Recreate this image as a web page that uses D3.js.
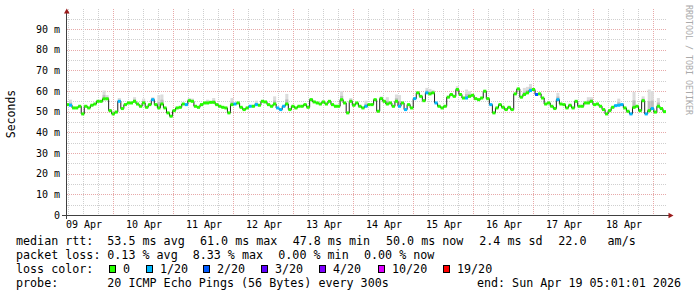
<!DOCTYPE html>
<html><head><meta charset="utf-8">
<script src="https://cdn.jsdelivr.net/npm/d3@7"></script>
<style>
body{margin:0;background:#fff}
svg{display:block}
text{font-family:"DejaVu Sans Mono",monospace;fill:#000}
</style>
</head><body>
<svg id="c" width="697" height="297"></svg>
<script>
// ---------------- data ----------------
const startTime = new Date(2026, 3, 9, 5, 1, 1);
const endTime = new Date(2026, 3, 19, 5, 1, 1);
// median rtt (ms), evenly spaced between startTime and endTime
const medianRtt = [
 53.4,53.1,51.8,51.8,52.6,48.9,52.6,51.8,53.1,53.7,55.0,55.0,56.2,56.2,50.5,48.9,49.8,55.0,51.5,53.4,
 54.2,54.2,55.0,53.7,52.6,54.2,52.1,53.4,55.8,53.4,51.8,53.7,51.8,49.4,47.8,50.5,51.8,52.1,53.7,53.4,
 55.3,55.0,52.6,52.1,53.4,54.2,54.2,54.5,
 54.5,53.4,52.6,52.1,51.8,49.4,53.4,53.7,54.2,52.1,51.0,51.8,52.6,52.6,53.4,53.1,55.0,54.7,53.4,52.6,
 53.7,51.8,51.0,52.6,53.7,51.0,52.6,51.8,52.6,52.6,53.4,52.1,55.8,54.7,54.2,53.7,54.7,53.7,55.0,53.4,
 52.6,52.6,55.8,54.2,49.4,55.0,53.1,54.2,
 52.6,51.8,52.6,53.4,53.4,55.8,50.2,56.3,55.0,53.7,54.2,52.6,55.0,52.6,54.2,51.0,53.4,51.8,56.3,59.1,
 57.4,55.3,59.1,58.6,59.1,54.2,52.6,51.8,52.6,57.0,58.3,57.4,60.7,58.3,56.6,56.6,57.4,57.9,56.3,55.8,
 56.6,59.9,56.3,53.4,49.4,51.8,53.4,52.1,51.0,52.1,
 51.0,58.6,61.0,57.0,58.3,59.1,60.2,60.7,58.3,58.6,56.6,53.7,54.2,52.6,51.5,55.8,53.7,53.4,51.8,53.1,
 51.8,55.0,52.6,52.6,54.2,54.2,55.0,53.4,53.7,52.6,51.0,48.9,50.5,52.1,52.9,53.1,53.4,51.8,50.2,48.9,
 52.1,52.6,50.5,55.3,48.9,50.5,51.5,49.8,52.6,51.5,50.0
];
// [sample index, lost pings out of 20]
const lossPoints = [[1,1],[17,1],[28,1],[39,1],[55,1],[60,1],[62,1],[69,1],[70,1],[71,1],
 [98,1],[109,1],[111,1],[114,1],[118,1],[121,1],[131,1],[139,1],[152,1],[154,2],[161,1],
 [180,1],[181,1],[182,1],[185,1],[190,1],[192,1]];
// [sample index, highest ping (ms)] - smoke
const smokePoints = [[1,55.8],[12,60.2],[13,58.0],[17,56.6],[22,57.0],[25,56.3],[28,57.0],[30,58.0],[31,58.3],
 [40,56.6],[41,56.3],[46,55.8],[48,56.6],[54,56.6],[62,55.3],[68,57.4],[72,58.6],[80,56.6],[90,59.9],[93,56.6],
 [98,55.3],[103,57.4],[105,57.0],[108,58.3],[109,58.0],[118,61.5],[119,61.0],[120,60.5],[128,62.3],[131,60.7],
 [132,60.0],[137,60.2],[150,61.5],[151,62.0],[152,63.4],[161,59.1],[171,57.0],[172,57.0],[181,56.3],
 [186,59.5],[189,57.4],[191,60.7],[192,60.0],[194,56.6]];
const yTicks = [0,10,20,30,40,50,60,70,80,90];
const dayLabels = ["09 Apr","10 Apr","11 Apr","12 Apr","13 Apr","14 Apr","15 Apr","16 Apr","17 Apr","18 Apr"];
const lossLevels = ["0","1/20","2/20","3/20","4/20","10/20","19/20"];
const lossColors = ["#26ff00","#00b8ff","#0059ff","#5e00ff","#7e00ff","#dd00ff","#ff0000"];
const lossCounts = [0,1,2,3,4,10,19];
const rttStats = [53.5, 61.0, 47.8, 50.0];
const rttStatNames = ["avg","max","min","now"];
const rttSd = 2.4;
const rttAms = 22.0;
const lossStats = [0.13, 8.33, 0.00, 0.00];
const probeText = "20 ICMP Echo Pings (56 Bytes) every 300s";
const endText = "end: Sun Apr 19 05:01:01 2026";

// ---------------- chart ----------------
const svg = d3.select("#c");
const x = d3.scaleTime().domain([startTime, endTime]).range([66, 666]);
const y = d3.scaleLinear().domain([0, 100]).range([215, 8.3]);
const N = medianRtt.length;
const step = (endTime - startTime) / N;
const tAt = i => new Date(+startTime + i * step);

const crisp = v => Math.round(v) + 0.5;

// grid: horizontal
const gGrid = svg.append("g");
d3.range(5, 100, 5).forEach(v => {
  gGrid.append("line").attr("x1", 67).attr("x2", 667)
    .attr("y1", crisp(y(v))).attr("y2", crisp(y(v)))
    .attr("stroke", v % 10 === 0 ? "#e7a9a9" : "#cfcfcf")
    .attr("stroke-dasharray", "1,1");
});
// grid: vertical (6 hours minor, midnight major)
d3.timeHour.every(6).range(startTime, endTime).forEach(t => {
  const major = t.getHours() === 0;
  gGrid.append("line").attr("x1", crisp(x(t))).attr("x2", crisp(x(t)))
    .attr("y1", 9).attr("y2", 215)
    .attr("stroke", major ? "#e7a9a9" : "#cfcfcf")
    .attr("stroke-dasharray", "1,1");
});

// smoke
const gSmoke = svg.append("g");
smokePoints.forEach(([i, top]) => {
  const m = medianRtt[i];
  const x0 = x(tAt(i)), x1 = x(tAt(i + 1));
  gSmoke.append("rect").attr("x", x0).attr("width", x1 - x0)
    .attr("y", y(top)).attr("height", Math.max(0, y(m) - y(top)))
    .attr("fill", "#dcdcdc");
  const mid = m + (top - m) * 0.45;
  gSmoke.append("rect").attr("x", x0).attr("width", x1 - x0)
    .attr("y", y(mid)).attr("height", Math.max(0, y(m) - y(mid)))
    .attr("fill", "#bdbdbd");
});

// median black step line
const pts = medianRtt.map((v, i) => [tAt(i), v]);
pts.push([endTime, medianRtt[N - 1]]);
svg.append("path")
  .attr("d", d3.line().x(d => x(d[0])).y(d => y(d[1])).curve(d3.curveStepAfter)(pts))
  .attr("fill", "none").attr("stroke", "#202020").attr("stroke-width", 1);

// loss-coloured median band
const lossMap = new Map(lossPoints);
const colorFor = c => {
  let k = 0;
  lossCounts.forEach((lc, j) => { if (c >= lc) k = j; });
  return lossColors[k];
};
svg.append("g").selectAll("rect").data(medianRtt).join("rect")
  .attr("x", (d, i) => x(tAt(i)))
  .attr("width", (d, i) => x(tAt(i + 1)) - x(tAt(i)))
  .attr("y", d => y(d) - 1.5).attr("height", 3)
  .attr("fill", (d, i) => colorFor(lossMap.get(i) || 0));

// axes lines
svg.append("line").attr("x1", 62).attr("x2", 669).attr("y1", 215.5).attr("y2", 215.5)
  .attr("stroke", "#404040");
svg.append("line").attr("x1", 66.5).attr("x2", 66.5).attr("y1", 219).attr("y2", 12)
  .attr("stroke", "#404040");
svg.append("path").attr("d", "M64,13.5L66.8,8.5L69.6,13.5Z").attr("fill", "#9b1b1b");
svg.append("path").attr("d", "M668.5,212.7L673.5,215.5L668.5,218.3Z").attr("fill", "#9b1b1b");

// y axis labels
const gy = svg.append("g").attr("transform", "translate(66,0)")
  .call(d3.axisLeft(y).tickValues(yTicks).tickSize(0).tickPadding(6)
    .tickFormat(d => d === 0 ? "0" : d + " m"));
gy.select(".domain").remove();
gy.selectAll("text").attr("font-family", "DejaVu Sans Mono").attr("font-size", "10px").attr("fill", "#000");

// x axis labels (at noon)
const noonDates = dayLabels.map((l, k) => new Date(2026, 3, 9 + k, 12, 0, 0));
const gx = svg.append("g").attr("transform", "translate(0,215)")
  .call(d3.axisBottom(x).tickValues(noonDates).tickSize(0).tickPadding(6)
    .tickFormat((d, k) => dayLabels[k]));
gx.select(".domain").remove();
gx.selectAll("text").attr("font-family", "DejaVu Sans Mono").attr("font-size", "10px").attr("fill", "#000");

// y title
svg.append("text").attr("transform", "translate(14.5,114) rotate(-90)")
  .attr("text-anchor", "middle").attr("font-size", "11.5px").text("Seconds");

// watermark
svg.append("text").attr("transform", "translate(685.5,60) rotate(90)")
  .attr("text-anchor", "middle").attr("font-size", "8.3px").style("fill", "#aaaaaa")
  .text("RRDTOOL / TOBI OETIKER");

// legend
const fs = "11.7px";
const addText = (tx, ty, s, anchor) => svg.append("text").attr("x", tx).attr("y", ty)
  .attr("font-size", fs).attr("text-anchor", anchor || "start").attr("xml:space", "preserve")
  .style("white-space", "pre").text(s);
const r1 = 245.3, r2 = 259.3, r3 = 273.3, r4 = 287.3;
addText(16, r1, "median rtt:");
const rttX = [107.3, 200, 292.7, 386];
rttStats.forEach((v, k) => addText(rttX[k], r1, v.toFixed(1) + " ms " + rttStatNames[k]));
addText(479.3, r1, rttSd.toFixed(1) + " ms sd");
addText(558.3, r1, rttAms.toFixed(1) + "   am/s");

addText(16, r2, "packet loss:");
const lossX = [107.3, 192.7, 278.3, 364];
lossStats.forEach((v, k) => addText(lossX[k], r2, v.toFixed(2) + " % " + rttStatNames[k]));

addText(16, r3, "loss color:");
const boxX = [109, 146, 203, 261, 319, 378, 443];
lossLevels.forEach((l, k) => {
  svg.append("rect").attr("x", boxX[k] + 0.5).attr("y", 265.5).attr("width", 6).attr("height", 7)
    .attr("fill", lossColors[k]).attr("stroke", "#000").attr("stroke-width", 1);
  addText(boxX[k] + 14, r3, l);
});

addText(16, r4, "probe:");
addText(107.3, r4, probeText);
addText(681, r4, endText, "end");
</script>
</body></html>
